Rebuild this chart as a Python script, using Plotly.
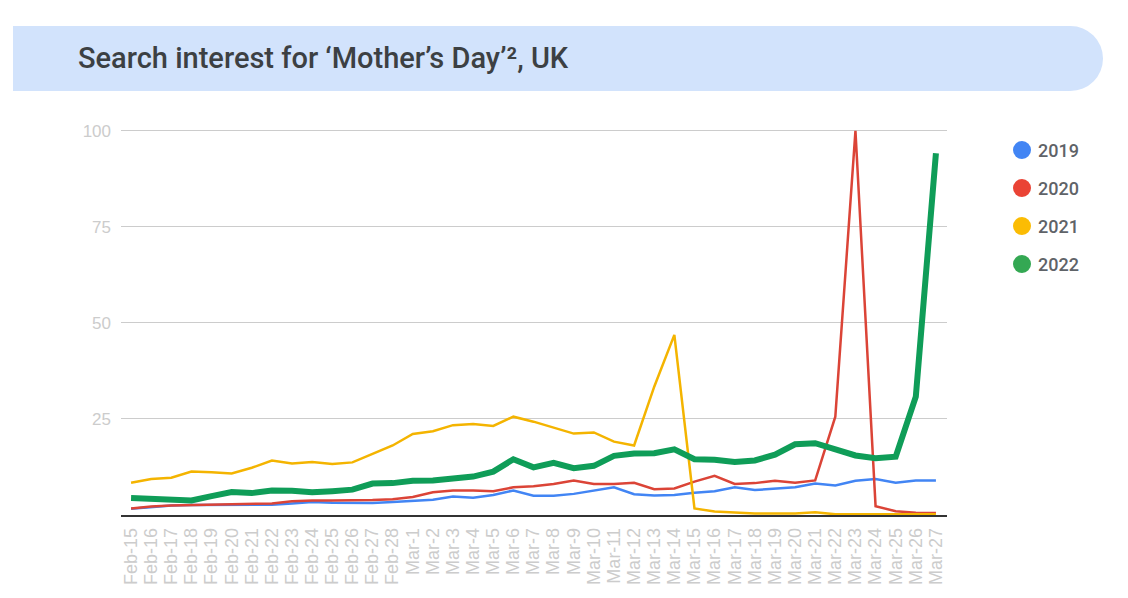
import plotly.graph_objects as go

dates = [f"Feb-{d}" for d in range(15, 29)] + [f"Mar-{d}" for d in range(1, 28)]

y2019 = [1.6, 2.1, 2.5, 2.6, 2.6, 2.7, 2.7, 2.7, 3.0, 3.4, 3.2, 3.1, 3.1, 3.4, 3.7,
         4.0, 4.8, 4.5, 5.2, 6.4, 5.0, 5.0, 5.5, 6.4, 7.2, 5.4, 5.1, 5.2, 5.8,
         6.2, 7.2, 6.5, 6.9, 7.2, 8.2, 7.7, 8.9, 9.4, 8.4, 9.0, 9.0]
y2020 = [1.7, 2.2, 2.5, 2.6, 2.6, 2.7, 2.8, 3.0, 3.6, 3.8, 3.8, 3.8, 3.9, 4.1, 4.7,
         5.9, 6.4, 6.4, 6.2, 7.2, 7.5, 8.1, 9.0, 8.1, 8.1, 8.4, 6.7, 6.9, 8.7,
         10.2, 8.1, 8.3, 8.9, 8.4, 9.0, 25.6, 100, 2.3, 1.0, 0.6, 0.5]
y2021 = [8.4, 9.4, 9.7, 11.3, 11.1, 10.8, 12.3, 14.2, 13.4, 13.8, 13.3, 13.7, 15.9, 18.1, 21.1,
         21.8, 23.4, 23.7, 23.2, 25.6, 24.3, 22.7, 21.2, 21.5, 19.1, 18.1, 33.4, 46.9, 1.7,
         0.9, 0.6, 0.4, 0.4, 0.4, 0.7, 0.2, 0.2, 0.2, 0.2, 0.2, 0.2]
y2022 = [4.4, 4.3, 4.2, 3.8, 4.9, 6.0, 5.7, 6.4, 6.3, 5.9, 6.2, 6.6, 8.2, 8.3, 8.9,
         9.0, 9.5, 10.0, 11.3, 14.5, 12.4, 13.6, 12.2, 12.8, 15.4, 16.0, 16.1, 17.1, 14.5,
         14.4, 13.8, 14.2, 15.7, 18.4, 18.7, 17.1, 15.5, 14.8, 15.2, 30.8, 94.2]

series = [
    ("2019", y2019, "#4285f4", "#4285f4", 2.5),
    ("2020", y2020, "#db4437", "#ea4335", 2.5),
    ("2021", y2021, "#f4b400", "#fbbc04", 2.5),
    ("2022", y2022, "#0f9d58", "#34a853", 6),
]
yticks = [0, 25, 50, 75, 100]
ytick_text = ["", "25", "50", "75", "100"]
title = "Search interest for ‘Mother’s Day’², UK"

OFF = 8  # page body margin
W, H = 1128 - OFF, 598 - OFF
L, R, T, B = 121 - OFF, 181, 129 - OFF, 83
PW, PH = W - L - R, H - T - B
YMAX = 100.5


def px(x):
    return (x - OFF - L) / PW


def py(y):
    return (H - B - (y - OFF)) / PH


fig = go.Figure()
for name, vals, lc, mc, w in series:
    fig.add_trace(go.Scatter(x=dates, y=vals, mode="lines", name=name,
                             line=dict(color=lc, width=w), showlegend=False,
                             hoverinfo="x+y+name"))

shapes = []
annotations = []
# title banner
bt, bb = 26, 91
r = (bb - bt) / 2
shapes.append(dict(type="rect", xref="paper", yref="paper", x0=px(13), x1=px(1103 - r), y0=py(bb), y1=py(bt),
                   fillcolor="#d2e3fc", line=dict(width=0), layer="below"))
shapes.append(dict(type="circle", xref="paper", yref="paper", x0=px(1103 - 2 * r), x1=px(1103), y0=py(bb), y1=py(bt),
                   fillcolor="#d2e3fc", line=dict(width=0), layer="below"))
annotations.append(dict(text=title, xref="paper", yref="paper", x=px(76), y=py(58), xanchor="left",
                        yanchor="middle", showarrow=False,
                        font=dict(family="Roboto", size=29, color="#3c4043", weight=500)))
# legend
ly = [150, 188, 226, 264]
for (name, vals, lc, mc, w), yy in zip(series, ly):
    rr = 9
    shapes.append(dict(type="circle", xref="paper", yref="paper", x0=px(1022 - rr), x1=px(1022 + rr),
                       y0=py(yy + rr), y1=py(yy - rr), fillcolor=mc, line=dict(width=0)))
    annotations.append(dict(text=name, xref="paper", yref="paper", x=px(1036), y=py(yy), xanchor="left",
                            yanchor="middle", showarrow=False,
                            font=dict(family="Roboto", size=18, color="#5f6368", weight=500)))

fig.update_layout(
    width=W, height=H,
    margin=dict(l=L, r=R, t=T, b=B, pad=0),
    paper_bgcolor="white", plot_bgcolor="white",
    shapes=shapes, annotations=annotations,
    showlegend=False,
    xaxis=dict(type="category", range=[-0.5, 40.55], tickmode="array", tickvals=dates, ticktext=dates,
               tickangle=-90, tickfont=dict(family="Arial", size=18, color="#cccccc"),
               showgrid=False, showline=True, linecolor="#333333", linewidth=1.5,
               ticks="", ticklabelstandoff=4, zeroline=False, fixedrange=True),
    yaxis=dict(range=[0, YMAX], tickmode="array", tickvals=yticks, ticktext=ytick_text,
               tickfont=dict(family="Arial", size=17, color="#cccccc"),
               showgrid=True, gridcolor="#cccccc", gridwidth=1, zeroline=False,
               showline=False, ticks="", ticklabelstandoff=9, fixedrange=True),
)

fig.write_html("out.html")
